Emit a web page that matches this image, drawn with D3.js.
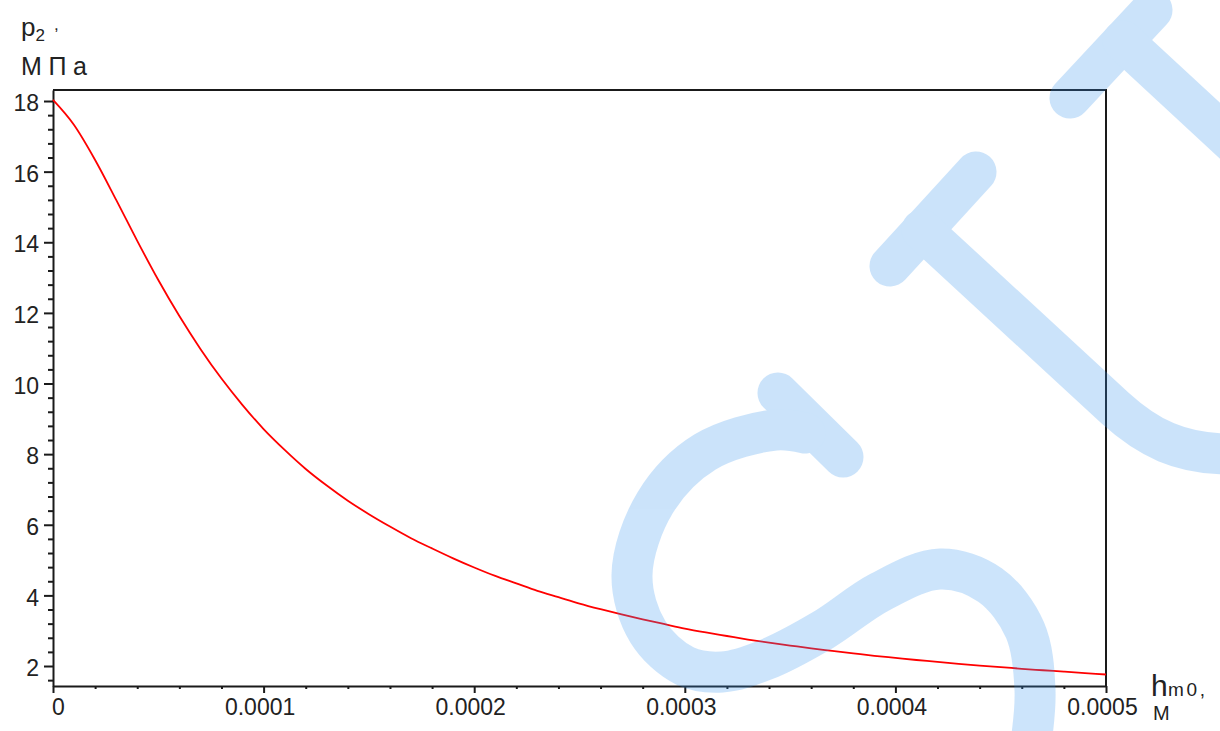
<!DOCTYPE html>
<html lang="ru">
<head>
<meta charset="utf-8">
<title>p2 vs hm0</title>
<script src="https://d3js.org/d3.v7.min.js"></script>
<style>
  body { margin: 0; background: #fff; }
  svg { display: block; font-family: "Liberation Sans", Arial, sans-serif; }
  .axis text { font-size: 23px; fill: #222; }
  .axis path, .axis line { stroke: #1a1a1a; stroke-width: 2; }
</style>
</head>
<body>
<svg id="chart" width="1220" height="731"></svg>
<script>
// film thickness h_m0, m
const hValues = [0, 0.00001, 0.00002, 0.00003, 0.00004, 0.00005, 0.00006, 0.00007, 0.00008, 0.00009,
  0.0001, 0.00011, 0.00012, 0.00013, 0.00014, 0.00015, 0.00016, 0.00017, 0.00018, 0.00019,
  0.0002, 0.00021, 0.00022, 0.00023, 0.00024, 0.00025, 0.00026, 0.00027, 0.00028, 0.00029,
  0.0003, 0.00031, 0.00032, 0.00033, 0.00034, 0.00035, 0.00036, 0.00037, 0.00038, 0.00039,
  0.0004, 0.00041, 0.00042, 0.00043, 0.00044, 0.00045, 0.00046, 0.00047, 0.00048, 0.00049, 0.0005];
// pressure p2, MPa
const pValues = [18.03, 17.32, 16.33, 15.20, 14.04, 12.93, 11.91, 10.98, 10.14, 9.39,
  8.71, 8.12, 7.58, 7.11, 6.68, 6.30, 5.95, 5.62, 5.33, 5.05,
  4.79, 4.55, 4.34, 4.13, 3.95, 3.77, 3.61, 3.46, 3.32, 3.19,
  3.06, 2.95, 2.85, 2.75, 2.66, 2.58, 2.50, 2.43, 2.36, 2.29,
  2.23, 2.17, 2.12, 2.06, 2.01, 1.97, 1.92, 1.88, 1.84, 1.80, 1.76];

const xTicks = [0, 0.0001, 0.0002, 0.0003, 0.0004, 0.0005];
const xTickLabels = ["0", "0.0001", "0.0002", "0.0003", "0.0004", "0.0005"];
const yTicks = [2, 4, 6, 8, 10, 12, 14, 16, 18];
const yTickLabels = ["2", "4", "6", "8", "10", "12", "14", "16", "18"];

var data = hValues.map(function(h, i) { return {h: h, p: pValues[i]}; });

var svg = d3.select("#chart");
var plotLeft = 53, plotRight = 1106, plotTop = 90, plotBottom = 686;

var x = d3.scaleLinear().domain([0, 0.0005]).range([plotLeft, plotRight]);
var y = d3.scaleLinear().domain([1.434, 18.312]).range([plotBottom, plotTop]);

// minor ticks
var yMinor = d3.range(1.6, 18.01, 0.4).filter(function(v) {
  return Math.abs(v / 2 - Math.round(v / 2)) > 1e-6;
});
var xMinor = d3.range(0, 0.000501, 0.00002).filter(function(v) {
  return Math.abs(v / 0.0001 - Math.round(v / 0.0001)) > 1e-6;
});

svg.append("g")
  .attr("class", "axis")
  .attr("transform", "translate(" + plotLeft + ",0)")
  .call(d3.axisLeft(y).tickValues(yMinor).tickSize(5).tickSizeOuter(0).tickFormat(""))
  .select(".domain").remove();

svg.append("g")
  .attr("class", "axis")
  .attr("transform", "translate(0," + plotBottom + ")")
  .call(d3.axisBottom(x).tickValues(xMinor).tickSize(3).tickSizeOuter(0).tickFormat(""))
  .select(".domain").remove();

// major axes
var yAxis = svg.append("g")
  .attr("class", "axis")
  .attr("transform", "translate(" + plotLeft + ",0)")
  .call(d3.axisLeft(y).tickValues(yTicks).tickSize(9).tickSizeOuter(0).tickPadding(5)
    .tickFormat(function(d, i) { return yTickLabels[i]; }));
yAxis.selectAll("text").attr("dy", "0.42em");

var xAxis = svg.append("g")
  .attr("class", "axis")
  .attr("transform", "translate(0," + plotBottom + ")")
  .call(d3.axisBottom(x).tickValues(xTicks).tickSize(7).tickSizeOuter(0).tickPadding(6)
    .tickFormat(function(d, i) { return xTickLabels[i]; }));
xAxis.selectAll("text").attr("dx", function(d) { return d === 0 ? 5 : -4; });

// frame top + right
svg.append("path")
  .attr("d", "M" + x(0) + "," + plotTop + "H" + x(0.0005) + "V" + plotBottom)
  .attr("fill", "none")
  .attr("stroke", "#1a1a1a")
  .attr("stroke-width", 2);

// curve
var line = d3.line()
  .x(function(d) { return x(d.h); })
  .y(function(d) { return y(d.p); })
  .curve(d3.curveMonotoneX);

svg.append("path")
  .datum(data)
  .attr("d", line)
  .attr("fill", "none")
  .attr("stroke", "#ff0000")
  .attr("stroke-width", 1.8);

// axis titles
var yt = svg.append("text").attr("x", 21).attr("y", 36).attr("fill", "#222").style("font-size", "26px");
yt.append("tspan").text("p");
yt.append("tspan").attr("dy", 5).style("font-size", "17px").text("2");
svg.append("text").attr("x", 54).attr("y", 30).attr("fill", "#222").style("font-size", "17px").text(",");
svg.append("text").attr("x", 21).attr("y", 75).attr("fill", "#222").style("font-size", "25px")
  .attr("textLength", 66).attr("lengthAdjust", "spacing").text("МПа");

svg.append("text").attr("x", 1151).attr("y", 696).attr("fill", "#222").style("font-size", "30px").text("h");
svg.append("text").attr("x", 1168).attr("y", 696).attr("fill", "#222").style("font-size", "19px")
  .attr("textLength", 37).attr("lengthAdjust", "spacing").text("m0,");
svg.append("text").attr("x", 1153).attr("y", 720).attr("fill", "#222").style("font-size", "20px").text("М");

// watermark overlay
var wm = svg.append("g")
  .attr("opacity", 0.25)
  .attr("fill", "none")
  .attr("stroke", "#3393ef")
  .attr("stroke-width", 41)
  .attr("stroke-linecap", "round")
  .attr("stroke-linejoin", "round");
wm.append("path").attr("d", "M890,266L976,172");
wm.append("path").attr("d", "M922,230L1115,408C1148,438 1180,454 1230,454");
wm.append("path").attr("d", "M1070,98L1152,10");
wm.append("path").attr("d", "M1123,41L1270,177");
wm.append("path").attr("d", "M778,393L843,457");
var sPts = [[805,433],[775,430],[705,452],[655,503],[632,575],[648,632],[685,666],[722,672],
  [765,660],[823,630],[880,592],[940,569],[990,585],[1025,630],[1035,690],[1030,750]];
wm.append("path").attr("d", d3.line().curve(d3.curveCatmullRom)(sPts));
</script>
</body>
</html>
